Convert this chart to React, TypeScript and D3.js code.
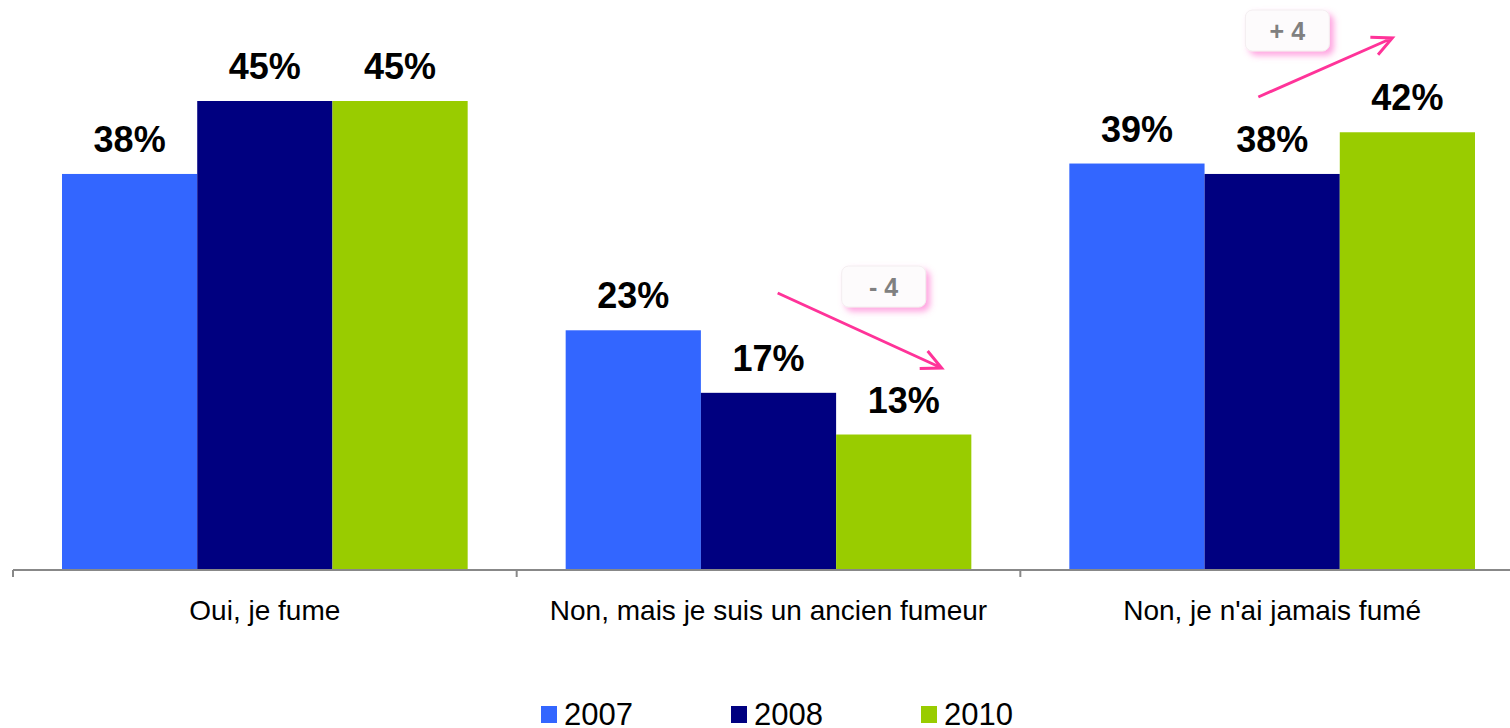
import React from "react";
import * as d3 from "d3";

const categories = ["Oui, je fume", "Non, mais je suis un ancien fumeur", "Non, je n'ai jamais fumé"];
const seriesNames = ["2007", "2008", "2010"];
const values2007 = [38, 23, 39];
const values2008 = [45, 17, 38];
const values2010 = [45, 13, 42];
const colors = ["#3366FF", "#000080", "#99CC00"];
const changeLabels = ["- 4", "+ 4"];
const changeCategories = [1, 2];
const changeDirections = [-1, 1];

const W = 1510;
const H = 728;

export default function App() {
  const series = [values2007, values2008, values2010];
  const x0 = d3.scaleBand<number>().domain([0, 1, 2]).range([13, 1524]).paddingInner(0).paddingOuter(0);
  const bw = x0.bandwidth();
  const inner = 49;
  const x1 = d3.scaleBand<number>().domain([0, 1, 2]).range([inner, bw - inner]).padding(0);
  const y = d3.scaleLinear().domain([0, 45]).range([570, 101]);

  const ticks = [0, 1, 2, 3].map((i) => 13 + i * bw);

  const arrowPath = (xa: number, ya: number, xb: number, yb: number) => {
    const ang = Math.atan2(yb - ya, xb - xa);
    const L = 22;
    const spread = 0.45;
    const p1 = [xb - L * Math.cos(ang - spread), yb - L * Math.sin(ang - spread)];
    const p2 = [xb - L * Math.cos(ang + spread), yb - L * Math.sin(ang + spread)];
    return `M${xa},${ya}L${xb},${yb}M${p1[0]},${p1[1]}L${xb},${yb}L${p2[0]},${p2[1]}`;
  };

  return (
    <svg width={W} height={H} style={{ position: "absolute", left: 0, top: 0, fontFamily: "Arial, 'Liberation Sans', sans-serif" }}>
      <defs>
        <filter id="pinkShadow" x="-30%" y="-30%" width="170%" height="190%">
          <feGaussianBlur in="SourceAlpha" stdDeviation="3" />
          <feOffset dx="4" dy="4" result="off" />
          <feFlood floodColor="#ff66cc" floodOpacity="0.6" />
          <feComposite in2="off" operator="in" />
          <feMerge>
            <feMergeNode />
            <feMergeNode in="SourceGraphic" />
          </feMerge>
        </filter>
      </defs>
      <rect width={W} height={H} fill="#fff" />
      {categories.map((c, ci) => (
        <g key={c} transform={`translate(${x0(ci)},0)`}>
          {series.map((vals, si) => (
            <g key={si}>
              <rect x={x1(si)} y={y(vals[ci])} width={x1.bandwidth()} height={y(0) - y(vals[ci])} fill={colors[si]} />
              <text x={(x1(si) as number) + x1.bandwidth() / 2} y={y(vals[ci]) - 22} textAnchor="middle" fontWeight="bold" fontSize={36} fill="#000">
                {vals[ci]}%
              </text>
            </g>
          ))}
          <text x={bw / 2} y={620} textAnchor="middle" fontSize={28} fill="#000">{c}</text>
        </g>
      ))}
      <line x1={13} x2={W} y1={570} y2={570} stroke="#888" strokeWidth={2} />
      {ticks.map((t, i) => (
        <line key={i} x1={t} x2={t} y1={570} y2={577} stroke="#888" strokeWidth={2} />
      ))}
      {changeLabels.map((lab, i) => {
        const ci = changeCategories[i];
        const gx = x0(ci) as number;
        const dir = changeDirections[i];
        const start = dir < 0 ? [gx + 261, 293] : [gx + 238, 97];
        const end = dir < 0 ? [gx + 425, 368] : [gx + 372, 38];
        const box = dir < 0 ? [gx + 325, 266] : [gx + 225, 10];
        return (
          <g key={lab}>
            <path d={arrowPath(start[0], start[1], end[0], end[1])} stroke="#FF3399" strokeWidth={3} fill="none" />
            <rect x={box[0]} y={box[1]} width={84} height={41} rx={7} fill="#fdfbfc" stroke="#f3eef0" filter="url(#pinkShadow)" />
            <text x={box[0] + 42} y={box[1] + 30} textAnchor="middle" fontWeight="bold" fontSize={25} fill="#808080">{lab}</text>
          </g>
        );
      })}
      {seriesNames.map((s, i) => {
        const lx = 541 + i * 190;
        return (
          <g key={s}>
            <rect x={lx} y={706} width={16} height={17} fill={colors[i]} />
            <text x={lx + 23} y={725} fontSize={31} fill="#000">{s}</text>
          </g>
        );
      })}
    </svg>
  );
}
